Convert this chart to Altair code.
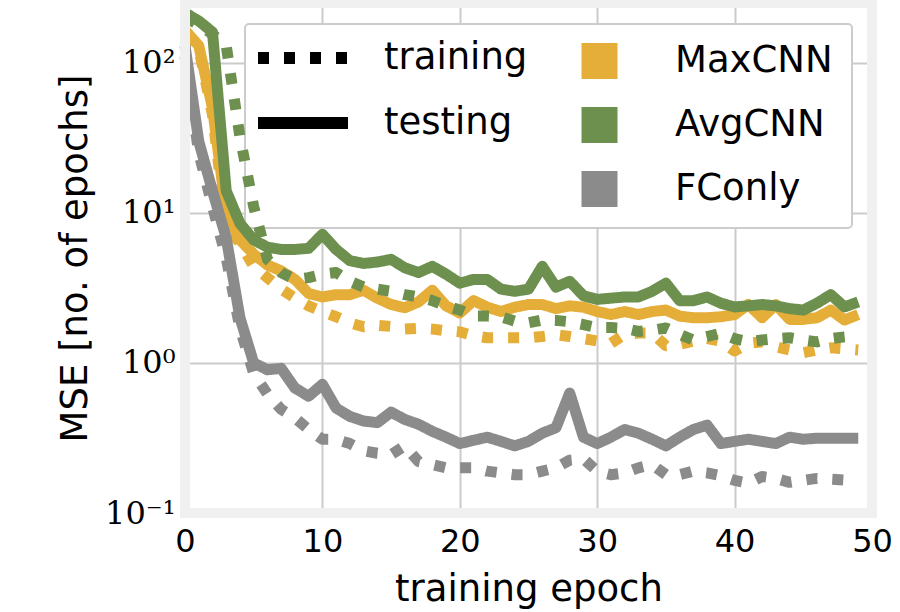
import altair as alt
import pandas as pd

epochs = list(range(50))
models = ["MaxCNN", "AvgCNN", "FConly"]
phases = ["training", "testing"]
colors = ["#e5ae38", "#6d904f", "#8b8b8b"]

maxcnn_train = [150, 125, 45, 8.0, 6.3, 4.4, 3.7, 3.1, 2.7, 2.4,
                2.2, 2.03, 1.85, 1.74, 1.78, 1.75, 1.68, 1.7, 1.68, 1.64,
                1.61, 1.52, 1.47, 1.47, 1.47, 1.47, 1.5, 1.54, 1.5, 1.45,
                1.4, 1.35, 1.55, 1.58, 1.58, 1.3, 1.33, 1.4, 1.45, 1.4,
                1.2, 1.35, 1.38, 1.28, 1.22, 1.17, 1.22, 1.26, 1.24, 1.22]
maxcnn_test = [165, 130, 50, 10, 6.6, 5.3, 4.5, 4.1, 3.6, 2.9,
               2.75, 2.85, 2.85, 3.05, 2.7, 2.45, 2.33, 2.55, 3.05, 2.4,
               2.15, 2.6, 2.35, 2.2, 2.35, 2.45, 2.45, 2.3, 2.4, 2.35,
               2.2, 2.1, 2.2, 2.1, 2.2, 2.25, 2.05, 2.0, 2.0, 2.03,
               2.1, 2.45, 2.0, 2.45, 1.95, 1.95, 2.0, 2.25, 1.93, 2.1]
avgcnn_train = [200, 180, 155, 130, 32, 11, 4.9, 4.0, 3.6, 3.7,
                3.9, 4.0, 3.5, 3.2, 3.1, 3.0, 2.85, 2.75, 2.6, 2.4,
                2.25, 2.05, 2.05, 2.03, 1.9, 1.85, 1.93, 1.92, 1.88, 1.8,
                1.72, 1.72, 1.7, 1.62, 1.65, 1.71, 1.55, 1.42, 1.5, 1.58,
                1.45, 1.38, 1.42, 1.45, 1.47, 1.42, 1.38, 1.45, 1.49, 1.52]
avgcnn_test = [215, 190, 160, 14, 8.5, 6.6, 5.9, 5.7, 5.7, 5.8,
               7.2, 5.7, 4.8, 4.6, 4.7, 4.9, 4.3, 4.0, 4.4, 3.9,
               3.4, 3.6, 3.6, 3.1, 3.0, 3.1, 4.4, 3.2, 3.5, 2.8,
               2.65, 2.7, 2.75, 2.75, 3.0, 3.4, 2.6, 2.6, 2.75, 2.5,
               2.36, 2.4, 2.45, 2.4, 2.3, 2.25, 2.5, 2.85, 2.36, 2.55]
fconly_train = [110, 25, 11, 5.0, 1.7, 0.85, 0.62, 0.49, 0.43, 0.36,
                0.31, 0.31, 0.29, 0.26, 0.25, 0.245, 0.28, 0.22, 0.21, 0.20,
                0.20, 0.20, 0.19, 0.185, 0.18, 0.18, 0.19, 0.2, 0.225, 0.23,
                0.19, 0.18, 0.185, 0.2, 0.21, 0.18, 0.18, 0.19, 0.185, 0.177,
                0.165, 0.158, 0.175, 0.17, 0.16, 0.165, 0.17, 0.168, 0.166, 0.165]
fconly_test = [130, 30, 14, 6.8, 2.0, 1.0, 0.9, 0.92, 0.68, 0.6,
               0.72, 0.5, 0.44, 0.41, 0.4, 0.47, 0.42, 0.39, 0.35, 0.32,
               0.29, 0.305, 0.32, 0.30, 0.28, 0.30, 0.34, 0.37, 0.63, 0.32,
               0.29, 0.32, 0.36, 0.34, 0.31, 0.28, 0.32, 0.36, 0.385, 0.29,
               0.30, 0.31, 0.30, 0.29, 0.32, 0.31, 0.315, 0.315, 0.315, 0.315]

series = {
    "MaxCNN": (maxcnn_train, maxcnn_test),
    "AvgCNN": (avgcnn_train, avgcnn_test),
    "FConly": (fconly_train, fconly_test),
}

rows = []
for m in models:
    tr, te = series[m]
    for e, v in zip(epochs, tr):
        rows.append({"epoch": e, "mse": v, "model": m, "phase": "training"})
    for e, v in zip(epochs, te):
        rows.append({"epoch": e, "mse": v, "model": m, "phase": "testing"})
df = pd.DataFrame(rows)

W, H = 687, 510
FONT = "DejaVu Sans"

x_enc = alt.X(
    "epoch:Q",
    scale=alt.Scale(domain=[0, 50], nice=False, zero=False),
    axis=alt.Axis(
        values=[0, 10, 20, 30, 40, 50], format="d", title="training epoch",
        labelFont=FONT, labelFontSize=32, labelColor="black", labelPadding=13,
        labelFlush=False, labelOverlap=False,
        ticks=False, domain=False, grid=True, gridColor="#cbcbcb", gridWidth=2,
        titleFont=FONT, titleFontSize=37, titleFontWeight="normal", titleColor="black",
        titleY=58, titleX=W / 2, titleBaseline="top", titleAlign="center",
    ),
)
y_enc = alt.Y(
    "mse:Q",
    scale=alt.Scale(type="log", domain=[0.1, 250], nice=False),
    axis=alt.Axis(
        values=[0.1, 1, 10, 100],
        labelExpr="datum.value < 0.5 ? '10⁻¹' : datum.value < 5 ? '10⁰' : datum.value < 50 ? '10¹' : '10²'",
        labelFont="DejaVu Serif", labelFontSize=32, labelColor="black", labelPadding=10,
        labelFlush=False, labelOverlap=False,
        ticks=False, domain=False, grid=True, gridColor="#cbcbcb", gridWidth=2,
        title="MSE [no. of epochs]", titleFont=FONT, titleFontSize=37,
        titleFontWeight="normal", titleColor="black", titleAngle=270,
        titleX=-110, titleY=H / 2, titleBaseline="middle", titleAlign="center",
    ),
)
color_enc = alt.Color(
    "model:N",
    scale=alt.Scale(domain=models, range=colors),
    legend=alt.Legend(
        title=None, orient="none", legendX=396, legendY=38,
        symbolType="square", symbolSize=324, symbolStrokeWidth=18,
        labelFont=FONT, labelFontSize=37, labelColor="black", labelOffset=57,
        labelLimit=400, clipHeight=40, rowPadding=24, padding=0,
    ),
)
dash_enc = alt.StrokeDash(
    "phase:N",
    scale=alt.Scale(domain=phases, range=[[11, 15], [1, 0]]),
    legend=alt.Legend(
        title=None, orient="none", legendX=67, legendY=35,
        symbolType="stroke", symbolSize=8100, symbolStrokeWidth=12,
        symbolStrokeColor="black",
        labelFont=FONT, labelFontSize=37, labelColor="black", labelOffset=30,
        labelLimit=400, clipHeight=40, rowPadding=25, padding=0,
    ),
)

one = pd.DataFrame({"k": [0]})
frame = alt.Chart(one).mark_rect(
    fill="white", stroke="#cccccc", strokeWidth=2, cornerRadius=4
).encode(x=alt.value(60), x2=alt.value(667), y=alt.value(21), y2=alt.value(225))

layers = [frame]
for m in models:
    for p in phases:
        sub = df[(df.model == m) & (df.phase == p)]
        layers.append(
            alt.Chart(sub).mark_line(strokeWidth=11, strokeJoin="round", strokeCap="butt")
            .encode(x=x_enc, y=y_enc, color=color_enc, strokeDash=dash_enc)
        )

spine = alt.Chart(one).mark_rect(
    fillOpacity=0, stroke="#f0f0f0", strokeWidth=10
).encode(x=alt.value(0), x2=alt.value(W), y=alt.value(0), y2=alt.value(H))
layers.append(spine)

chart = alt.layer(*layers).properties(
    width=W, height=H,
    autosize=alt.AutoSizeParams(type="none"),
    padding={"left": 185, "top": 3, "right": 28, "bottom": 99},
    background="white",
).configure_view(strokeWidth=0)

chart.save("out.html", embed_options={"renderer": "svg", "actions": False})
